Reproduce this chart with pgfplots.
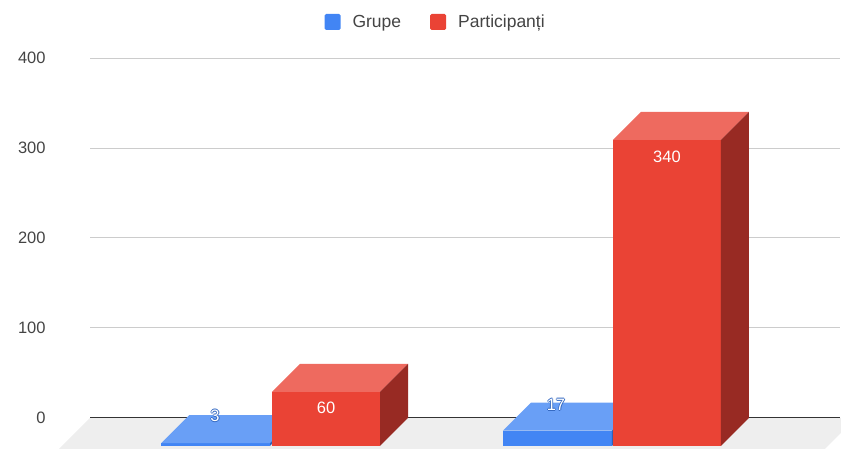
\documentclass[border=0pt]{standalone}
\usepackage{pgfplots}
\pgfplotsset{compat=1.18}
\usepackage{fontspec}
\setmainfont{Liberation Sans}

\definecolor{gblue}{HTML}{4285F4}
\definecolor{gbluetop}{HTML}{699FF6}
\definecolor{gblueside}{HTML}{2F62B8}
\definecolor{gred}{HTML}{EA4335}
\definecolor{gredtop}{HTML}{EE6A5F}
\definecolor{gredside}{HTML}{982A23}
\definecolor{floorgray}{HTML}{EEEEEE}
\definecolor{gridgray}{HTML}{CCCCCC}
\definecolor{ticktext}{HTML}{444444}

\newcommand{\lblfont}{\fontsize{16.5}{18}\selectfont}

% white label with a blue rim (copies shifted around the text)
\newcommand{\halo}[3]{%
  \node[font=\lblfont,text=gblue!80!black,xshift=0.8pt] at (axis cs:#1,#2) {#3};
  \node[font=\lblfont,text=gblue!80!black,xshift=-0.8pt] at (axis cs:#1,#2) {#3};
  \node[font=\lblfont,text=gblue!80!black,yshift=0.8pt] at (axis cs:#1,#2) {#3};
  \node[font=\lblfont,text=gblue!80!black,yshift=-0.8pt] at (axis cs:#1,#2) {#3};
  \node[font=\lblfont,text=white] at (axis cs:#1,#2) {#3};
}

\begin{document}
\begin{tikzpicture}
\begin{axis}[
    width=841pt, height=449pt, scale only axis,
    xmin=0, xmax=841,
    ymin=-34.44, ymax=464.44,
    clip=false,
    axis line style={draw=none},
    xtick=\empty,
    ytick={0,100,200,300,400},
    major tick length=0pt,
    yticklabel style={font=\fontsize{16.5}{18}\selectfont, text=ticktext, anchor=east, xshift=49pt},
    /pgf/number format/assume math mode=true,
    legend image code/.code={\fill[#1, rounded corners=1.5pt] (0pt,-8pt) rectangle (16pt,8pt);},
    legend style={at={(0.518,0.951)}, anchor=center, draw=none, fill=none,
        legend columns=2, font=\fontsize{17.5}{20}\selectfont, text=ticktext,
        /tikz/every odd column/.append style={column sep=10pt},
        /tikz/every even column/.append style={column sep=27pt}},
]
% floor
\addplot[fill=floorgray, draw=none, forget plot] coordinates {(90,0) (841,0) (841,-16.67) (825,-34.44) (59,-34.44)};
% gridlines
\addplot[gridgray, line width=0.9pt, forget plot] coordinates {(90,100) (840,100)};
\addplot[gridgray, line width=0.9pt, forget plot] coordinates {(90,200) (840,200)};
\addplot[gridgray, line width=0.9pt, forget plot] coordinates {(90,300) (840,300)};
\addplot[gridgray, line width=0.9pt, forget plot] coordinates {(90,400) (840,400)};
\addplot[black!80, line width=1pt, forget plot] coordinates {(90,0) (840,0)};

% group 1: Grupe = 3
\addplot[fill=gblue, draw=none, forget plot] coordinates {(161,-31.11) (270,-31.11) (270,-28.11) (161,-28.11)};
\addplot[fill=gbluetop, draw=none, forget plot] coordinates {(161,-28.11) (270,-28.11) (298,3) (189,3)};
\addplot[fill=gblueside, draw=none, forget plot] coordinates {(270,-31.11) (298,0) (298,3) (270,-28.11)};
% group 1: Participanti = 60
\addplot[fill=gred, draw=none, forget plot] coordinates {(272,-31.11) (380,-31.11) (380,28.89) (272,28.89)};
\addplot[fill=gredtop, draw=none, forget plot] coordinates {(272,28.89) (380,28.89) (408,60) (300,60)};
\addplot[fill=gredside, draw=none, forget plot] coordinates {(380,-31.11) (408,0) (408,60) (380,28.89)};

% group 2: Grupe = 17
\addplot[fill=gblue, draw=none, forget plot] coordinates {(503,-31.11) (612,-31.11) (612,-14.11) (503,-14.11)};
\addplot[fill=gbluetop, draw=none, forget plot] coordinates {(503,-14.11) (612,-14.11) (640,17) (531,17)};
\addplot[fill=gblueside, draw=none, forget plot] coordinates {(612,-31.11) (640,0) (640,17) (612,-14.11)};
% group 2: Participanti = 340
\addplot[fill=gred, draw=none, forget plot] coordinates {(613,-31.11) (721,-31.11) (721,308.89) (613,308.89)};
\addplot[fill=gredtop, draw=none, forget plot] coordinates {(613,308.89) (721,308.89) (749,340) (641,340)};
\addplot[fill=gredside, draw=none, forget plot] coordinates {(721,-31.11) (749,0) (749,340) (721,308.89)};

% value labels
\halo{215}{2.2}{3}
\halo{556}{14.4}{17}
\node[font=\lblfont, text=white] at (axis cs:326,11.1) {60};
\node[font=\lblfont, text=white] at (axis cs:667,290) {340};

\addlegendimage{fill=gblue, draw=none}
\addlegendentry{Grupe}
\addlegendimage{fill=gred, draw=none}
\addlegendentry{Participanți}
\end{axis}
\end{tikzpicture}
\end{document}
